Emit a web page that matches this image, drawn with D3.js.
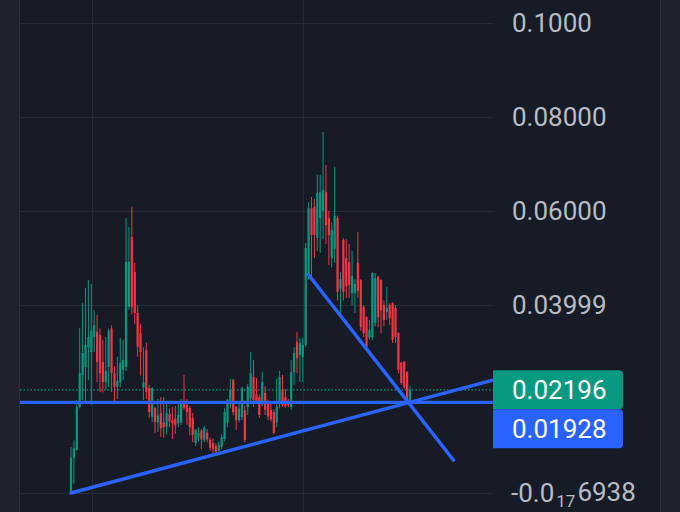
<!DOCTYPE html>
<html><head><meta charset="utf-8">
<script src="https://cdn.jsdelivr.net/npm/d3@7"></script>
<style>html,body{margin:0;padding:0;background:#171b26;overflow:hidden}</style>
</head><body><svg id="c" width="680" height="512"></svg>
<script>
// OHLC candles: [open, high, low, close]
const candles = [
[0.0003,0.0098,0.0000,0.0075],[0.0075,0.0112,0.0020,0.0095],[0.0092,0.0198,0.0090,0.0183],
[0.0183,0.0351,0.0180,0.0255],[0.0250,0.0404,0.0198,0.0298],[0.0268,0.0436,0.0190,0.0315],
[0.0310,0.0453,0.0240,0.0332],[0.0300,0.0445,0.0188,0.0345],[0.0332,0.0389,0.0300,0.0357],
[0.0343,0.0379,0.0236,0.0279],[0.0336,0.0350,0.0215,0.0255],[0.0279,0.0326,0.0214,0.0236],
[0.0236,0.0332,0.0220,0.0260],[0.0268,0.0350,0.0225,0.0345],[0.0350,0.0357,0.0215,0.0255],
[0.0255,0.0270,0.0190,0.0226],[0.0226,0.0290,0.0200,0.0238],[0.0236,0.0330,0.0225,0.0277],
[0.0262,0.0326,0.0240,0.0283],[0.0268,0.0585,0.0260,0.0492],[0.0396,0.0566,0.0390,0.0492],
[0.0545,0.0609,0.0380,0.0396],[0.0470,0.0490,0.0360,0.0383],[0.0383,0.0400,0.0290,0.0311],
[0.0340,0.0360,0.0250,0.0300],[0.0225,0.0310,0.0198,0.0235],[0.0304,0.0320,0.0200,0.0215],
[0.0223,0.0230,0.0160,0.0172],[0.0162,0.0225,0.0150,0.0223],[0.0181,0.0183,0.0128,0.0151],
[0.0150,0.0200,0.0130,0.0165],[0.0170,0.0204,0.0120,0.0138],[0.0150,0.0204,0.0118,0.0140],
[0.0142,0.0195,0.0125,0.0170],[0.0168,0.0180,0.0140,0.0152],[0.0155,0.0183,0.0115,0.0148],
[0.0158,0.0185,0.0126,0.0145],[0.0148,0.0190,0.0140,0.0166],[0.0150,0.0200,0.0145,0.0195],
[0.0193,0.0251,0.0177,0.0181],[0.0187,0.0200,0.0145,0.0172],[0.0181,0.0185,0.0123,0.0140],
[0.0160,0.0170,0.0108,0.0123],[0.0106,0.0137,0.0100,0.0134],[0.0120,0.0140,0.0110,0.0128],
[0.0133,0.0136,0.0093,0.0114],[0.0112,0.0143,0.0108,0.0139],[0.0128,0.0136,0.0108,0.0114],
[0.0113,0.0118,0.0090,0.0096],[0.0106,0.0116,0.0085,0.0093],[0.0100,0.0106,0.0085,0.0088],
[0.0090,0.0110,0.0088,0.0103],[0.0098,0.0125,0.0093,0.0119],[0.0115,0.0180,0.0110,0.0172],
[0.0150,0.0200,0.0140,0.0198],[0.0190,0.0243,0.0180,0.0220],[0.0240,0.0243,0.0165,0.0172],
[0.0183,0.0185,0.0134,0.0155],[0.0155,0.0190,0.0150,0.0180],[0.0162,0.0226,0.0155,0.0223],
[0.0176,0.0185,0.0108,0.0113],[0.0183,0.0232,0.0166,0.0226],[0.0202,0.0300,0.0190,0.0255],
[0.0247,0.0283,0.0183,0.0198],[0.0210,0.0245,0.0190,0.0194],[0.0204,0.0210,0.0160,0.0166],
[0.0194,0.0257,0.0185,0.0236],[0.0213,0.0227,0.0166,0.0177],[0.0192,0.0199,0.0155,0.0163],
[0.0177,0.0190,0.0152,0.0157],[0.0172,0.0178,0.0125,0.0128],[0.0150,0.0243,0.0140,0.0183],
[0.0190,0.0260,0.0180,0.0247],[0.0220,0.0251,0.0183,0.0187],[0.0204,0.0221,0.0181,0.0185],
[0.0195,0.0200,0.0182,0.0187],[0.0183,0.0283,0.0177,0.0257],[0.0257,0.0310,0.0230,0.0298],
[0.0321,0.0343,0.0255,0.0287],[0.0294,0.0330,0.0236,0.0319],[0.0290,0.0330,0.0236,0.0315],
[0.0315,0.0532,0.0310,0.0521],[0.0464,0.0619,0.0455,0.0606],[0.0606,0.0630,0.0457,0.0549],
[0.0609,0.0626,0.0500,0.0549],[0.0543,0.0677,0.0515,0.0638],[0.0585,0.0677,0.0511,0.0640],
[0.0600,0.0768,0.0540,0.0645],[0.0640,0.0698,0.0530,0.0570],[0.0585,0.0600,0.0485,0.0549],
[0.0500,0.0575,0.0480,0.0560],[0.0520,0.0694,0.0490,0.0590],[0.0585,0.0590,0.0410,0.0428],
[0.0435,0.0470,0.0380,0.0455],[0.0538,0.0542,0.0410,0.0428],[0.0500,0.0540,0.0415,0.0440],
[0.0491,0.0530,0.0415,0.0443],[0.0425,0.0515,0.0400,0.0462],[0.0425,0.0455,0.0383,0.0445],
[0.0490,0.0555,0.0415,0.0430],
[0.0453,0.0455,0.0345,0.0353],[0.0396,0.0400,0.0332,0.0340],[0.0374,0.0376,0.0304,0.0311],
[0.0330,0.0368,0.0326,0.0347],[0.0332,0.0470,0.0325,0.0468],[0.0362,0.0468,0.0355,0.0457],
[0.0460,0.0462,0.0353,0.0374],[0.0453,0.0455,0.0340,0.0389],[0.0400,0.0410,0.0355,0.0368],
[0.0385,0.0438,0.0368,0.0394],[0.0400,0.0404,0.0357,0.0372],[0.0404,0.0406,0.0319,0.0326],
[0.0394,0.0400,0.0319,0.0332],[0.0340,0.0342,0.0255,0.0262],[0.0277,0.0279,0.0230,0.0234],
[0.0279,0.0281,0.0221,0.0226],[0.0257,0.0260,0.0190,0.0194],[0.0193,0.0228,0.0189,0.02196]
];
const yTicks = [0.1, 0.08, 0.06, 0.04, 0];
const yTickLabels = ["0.1000", "0.08000", "0.06000", "0.03999", null];
const zeroLabelParts = ["-0.0", "17", "6938"];
const vGridIdx = [7.2, 80.0];
const lastPrice = 0.02196, lastLabel = "0.02196";
const hLinePrice = 0.01928, hLineLabel = "0.01928";
const trendUp = [[0, 0.0], [117, 0.0193]];
const trendDown = [[82, 0.0464], [132, 0.0070]];

const W = 680, H = 512;
const plotL = 20, plotR = 493, axisR = 660;
const up = "#089981", down = "#f23645", blue = "#2962ff";
const font = "Roboto, 'Noto Sans', sans-serif";

const svg = d3.select("#c");
const N = candles.length;
const x = d3.scaleLinear().domain([0, N - 1]).range([71, 410]);
const y = d3.scaleLinear().domain([0, 0.1]).range([493, 23]);

// backgrounds
svg.append("rect").attr("width", W).attr("height", H).attr("fill", "#171b26");
svg.append("rect").attr("x", 0).attr("width", plotL - 1).attr("height", H).attr("fill", "#1f222d");
svg.append("rect").attr("x", axisR).attr("width", W - axisR).attr("height", H).attr("fill", "#1f222d");
svg.append("line").attr("x1", plotL - 0.5).attr("x2", plotL - 0.5).attr("y1", 0).attr("y2", H).attr("stroke", "#2a2e39");
svg.append("line").attr("x1", axisR + 0.5).attr("x2", axisR + 0.5).attr("y1", 0).attr("y2", H).attr("stroke", "#2a2e39");

// grid
const grid = svg.append("g").attr("stroke", "#262a36").attr("stroke-width", 1);
grid.selectAll("line.h").data(yTicks).join("line")
  .attr("x1", plotL).attr("x2", plotR)
  .attr("y1", d => Math.round(y(d)) + 0.5).attr("y2", d => Math.round(y(d)) + 0.5);
grid.selectAll("line.v").data(vGridIdx).join("line")
  .attr("x1", d => Math.round(x(d)) + 0.5).attr("x2", d => Math.round(x(d)) + 0.5)
  .attr("y1", 0).attr("y2", H);

// last price dotted line
svg.append("line").attr("x1", plotL).attr("x2", plotR)
  .attr("y1", y(lastPrice)).attr("y2", y(lastPrice))
  .attr("stroke", up).attr("stroke-width", 1.2).attr("stroke-dasharray", "1.5,2");

// candles
const cg = svg.append("g");
const c = cg.selectAll("g").data(candles).join("g");
c.append("line")
  .attr("x1", (d, i) => x(i)).attr("x2", (d, i) => x(i))
  .attr("y1", d => y(d[1])).attr("y2", d => y(d[2]))
  .attr("stroke", d => d[3] >= d[0] ? up : down).attr("stroke-width", 1);
c.append("rect")
  .attr("x", (d, i) => x(i) - 1.1).attr("width", 2.2)
  .attr("y", d => y(Math.max(d[0], d[3])))
  .attr("height", d => Math.max(1, Math.abs(y(d[0]) - y(d[3]))))
  .attr("fill", d => d[3] >= d[0] ? up : down);

// drawings
svg.append("line").attr("x1", plotL).attr("x2", plotR)
  .attr("y1", y(hLinePrice)).attr("y2", y(hLinePrice))
  .attr("stroke", blue).attr("stroke-width", 3.4);
const iEdge = x.invert(plotR);
const slopeUp = (trendUp[1][1] - trendUp[0][1]) / (trendUp[1][0] - trendUp[0][0]);
svg.append("line")
  .attr("x1", x(trendUp[0][0])).attr("y1", y(trendUp[0][1]))
  .attr("x2", x(iEdge)).attr("y2", y(trendUp[0][1] + slopeUp * (iEdge - trendUp[0][0])))
  .attr("stroke", blue).attr("stroke-width", 3.4).attr("stroke-linecap", "round");
svg.append("line")
  .attr("x1", x(trendDown[0][0])).attr("y1", y(trendDown[0][1]))
  .attr("x2", x(trendDown[1][0])).attr("y2", y(trendDown[1][1]))
  .attr("stroke", blue).attr("stroke-width", 3.4).attr("stroke-linecap", "round");

// axis labels
const ax = svg.append("g").attr("font-family", font).attr("font-size", 26).attr("fill", "#b8bbc4");
ax.selectAll("text").data(yTicks.filter((d, i) => yTickLabels[i])).join("text")
  .attr("x", 512).attr("y", d => y(d)).attr("dy", "0.36em")
  .text((d, i) => yTickLabels[i]);
const zt = ax.append("text").attr("x", 511).attr("y", y(0)).attr("dy", "0.33em");
zt.append("tspan").text(zeroLabelParts[0]);
zt.append("tspan").attr("font-size", 17).attr("dy", "0.3em").attr("dx", 2).text(zeroLabelParts[1]);
zt.append("tspan").attr("dy", "-0.2em").attr("dx", 2).text(zeroLabelParts[2]);

// price labels
function box(top, color, label) {
  const bx = 493, bw = 130, bh = 39, r = 4;
  const p = d3.path();
  p.moveTo(bx, top); p.lineTo(bx + bw - r, top); p.arcTo(bx + bw, top, bx + bw, top + r, r);
  p.lineTo(bx + bw, top + bh - r); p.arcTo(bx + bw, top + bh, bx + bw - r, top + bh, r);
  p.lineTo(bx, top + bh); p.closePath();
  svg.append("path").attr("d", p.toString()).attr("fill", color);
  svg.append("text").attr("x", 512).attr("y", top + bh / 2).attr("dy", "0.36em")
    .attr("font-family", font).attr("font-size", 26).attr("fill", "#ffffff").text(label);
}
const gTop = y(lastPrice) - 19.5;
box(gTop, up, lastLabel);
box(Math.max(gTop + 39, y(hLinePrice) - 19.5), blue, hLineLabel);
</script></body></html>
